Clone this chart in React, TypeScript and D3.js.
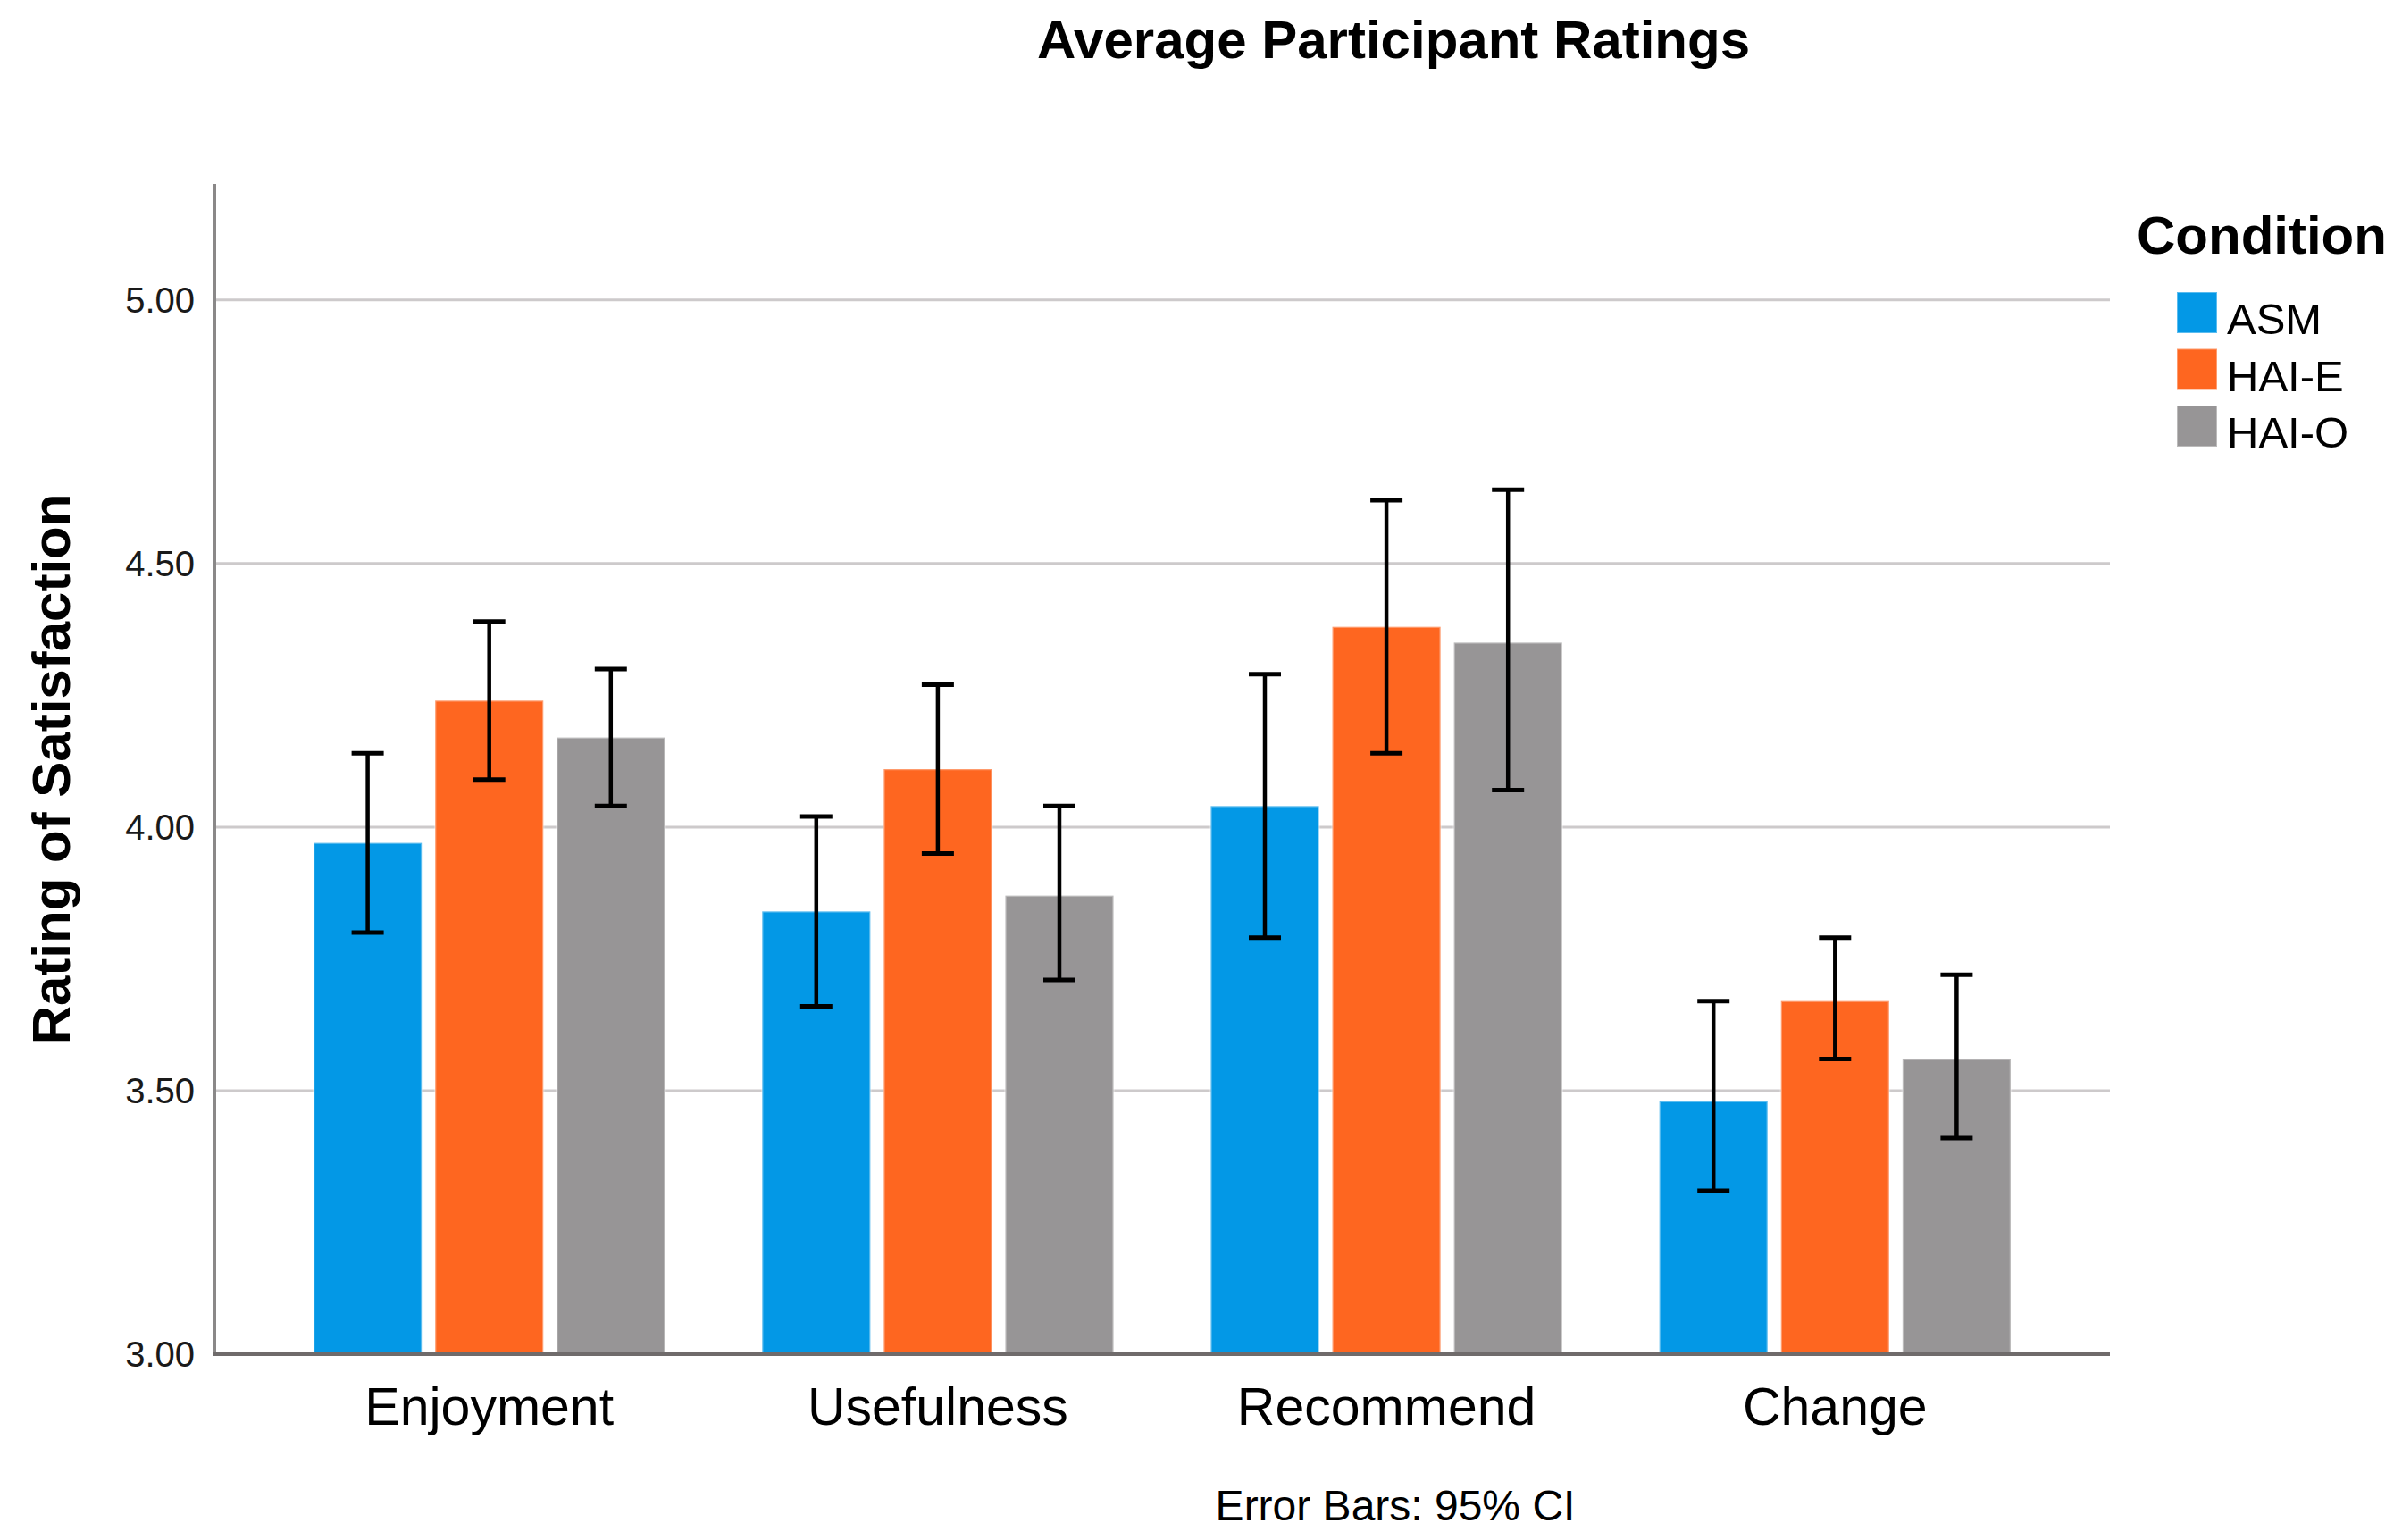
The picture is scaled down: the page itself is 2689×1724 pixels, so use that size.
import { useEffect, useRef } from "react";
import * as d3 from "d3";

const CATEGORIES = ["Enjoyment", "Usefulness", "Recommend", "Change"];
const CONDITIONS = ["ASM", "HAI-E", "HAI-O"];
// rows = category, cols = condition
const MEANS = [[3.97, 4.24, 4.17], [3.84, 4.11, 3.87], [4.04, 4.38, 4.35], [3.48, 3.67, 3.56]];
const CI_LOW = [[3.80, 4.09, 4.04], [3.66, 3.95, 3.71], [3.79, 4.14, 4.07], [3.31, 3.56, 3.41]];
const CI_HIGH = [[4.14, 4.39, 4.30], [4.02, 4.27, 4.04], [4.29, 4.62, 4.64], [3.67, 3.79, 3.72]];
const Y_TICKS = [3, 3.5, 4, 4.5, 5];
const COLORS = ["#0398E6", "#FE6620", "#979596"];

const W = 2689, H = 1724;
const FONT = "'Liberation Sans', Arial, sans-serif";

export default function App() {
  const svgRef = useRef<SVGSVGElement>(null);

  useEffect(() => {
    if (!svgRef.current) return;
    const svg = d3.select(svgRef.current);
    svg.selectAll("*").remove();

    const mg = { l: 240, r: 2362, t: 206, b: 1516 };
    const yS = d3.scaleLinear().domain([3, 5.22]).range([mg.b, mg.t]);
    const xS = d3.scaleBand().domain(CATEGORIES).range([mg.l, mg.r]).paddingInner(0).paddingOuter(0.1127);
    const xIn = d3.scaleBand().domain(CONDITIONS).range([0, xS.bandwidth()]).paddingInner(0.11).paddingOuter(0.4);

    // title
    svg.append("text").attr("x", 1560).attr("y", 65).attr("text-anchor", "middle")
      .attr("font-family", FONT).attr("font-weight", "bold").attr("font-size", 60).attr("fill", "#000")
      .text("Average Participant Ratings");

    // grid
    Y_TICKS.forEach(t => {
      if (t > 3) svg.append("line").attr("x1", mg.l).attr("x2", mg.r).attr("y1", yS(t)).attr("y2", yS(t))
        .attr("stroke", "#cdcacb").attr("stroke-width", 3);
      svg.append("text").attr("x", 218).attr("y", yS(t)).attr("dy", "0.36em").attr("text-anchor", "end")
        .attr("font-family", FONT).attr("font-size", 40).attr("fill", "#1a1a1a").text(t.toFixed(2));
    });

    // bars + error bars
    CATEGORIES.forEach((cat, ci) => {
      const g = svg.append("g").attr("transform", `translate(${xS(cat)},0)`);
      CONDITIONS.forEach((cond, k) => {
        const x = xIn(cond)!, bw = xIn.bandwidth(), col = COLORS[k];
        const y = yS(MEANS[ci][k]);
        g.append("rect").attr("x", x).attr("y", y).attr("width", bw).attr("height", yS(3) - y)
          .attr("fill", col).attr("stroke", "#fff").attr("stroke-opacity", 0.35).attr("stroke-width", 2.5);
      });
      CONDITIONS.forEach((cond, k) => {
        const cx = xIn(cond)! + xIn.bandwidth() / 2;
        const yl = yS(CI_LOW[ci][k]), yh = yS(CI_HIGH[ci][k]);
        g.append("line").attr("x1", cx).attr("x2", cx).attr("y1", yh).attr("y2", yl).attr("stroke", "#000").attr("stroke-width", 4.5);
        [yl, yh].forEach(yy => g.append("line").attr("x1", cx - 18).attr("x2", cx + 18).attr("y1", yy).attr("y2", yy)
          .attr("stroke", "#000").attr("stroke-width", 5));
      });
      svg.append("text").attr("x", xS(cat)! + xS.bandwidth() / 2).attr("y", 1595).attr("text-anchor", "middle")
        .attr("font-family", FONT).attr("font-size", 59).attr("fill", "#000").text(cat);
    });

    // axes
    svg.append("line").attr("x1", mg.l).attr("x2", mg.l).attr("y1", mg.t).attr("y2", mg.b + 2)
      .attr("stroke", "#8a8888").attr("stroke-width", 4);
    svg.append("line").attr("x1", mg.l - 2).attr("x2", mg.r).attr("y1", mg.b).attr("y2", mg.b)
      .attr("stroke", "#6f6b6b").attr("stroke-width", 4);

    // y title
    svg.append("text").attr("transform", `translate(78,861) rotate(-90)`).attr("text-anchor", "middle")
      .attr("font-family", FONT).attr("font-weight", "bold").attr("font-size", 60).attr("fill", "#000")
      .text("Rating of Satisfaction");

    // footnote
    svg.append("text").attr("x", 1562).attr("y", 1702).attr("text-anchor", "middle")
      .attr("font-family", FONT).attr("font-size", 48).attr("fill", "#000").text("Error Bars: 95% CI");

    // legend
    const lg = svg.append("g").attr("transform", "translate(2392,0)");
    lg.append("text").attr("x", 0).attr("y", 284).attr("font-family", FONT).attr("font-weight", "bold")
      .attr("font-size", 60).attr("fill", "#000").text("Condition");
    CONDITIONS.forEach((cond, k) => {
      const y0 = 327 + k * 63.5;
      lg.append("rect").attr("x", 45).attr("y", y0).attr("width", 45).attr("height", 46).attr("fill", COLORS[k])
        .attr("stroke", "#fff").attr("stroke-opacity", 0.35).attr("stroke-width", 2);
      lg.append("text").attr("x", 101).attr("y", y0 + 47).attr("font-family", FONT).attr("font-size", 49)
        .attr("fill", "#000").text(cond);
    });
  }, []);

  return (
    <svg ref={svgRef} width={W} height={H} viewBox={`0 0 ${W} ${H}`}
      style={{ position: "absolute", left: 0, top: 0, background: "#fff", display: "block" }} />
  );
}
